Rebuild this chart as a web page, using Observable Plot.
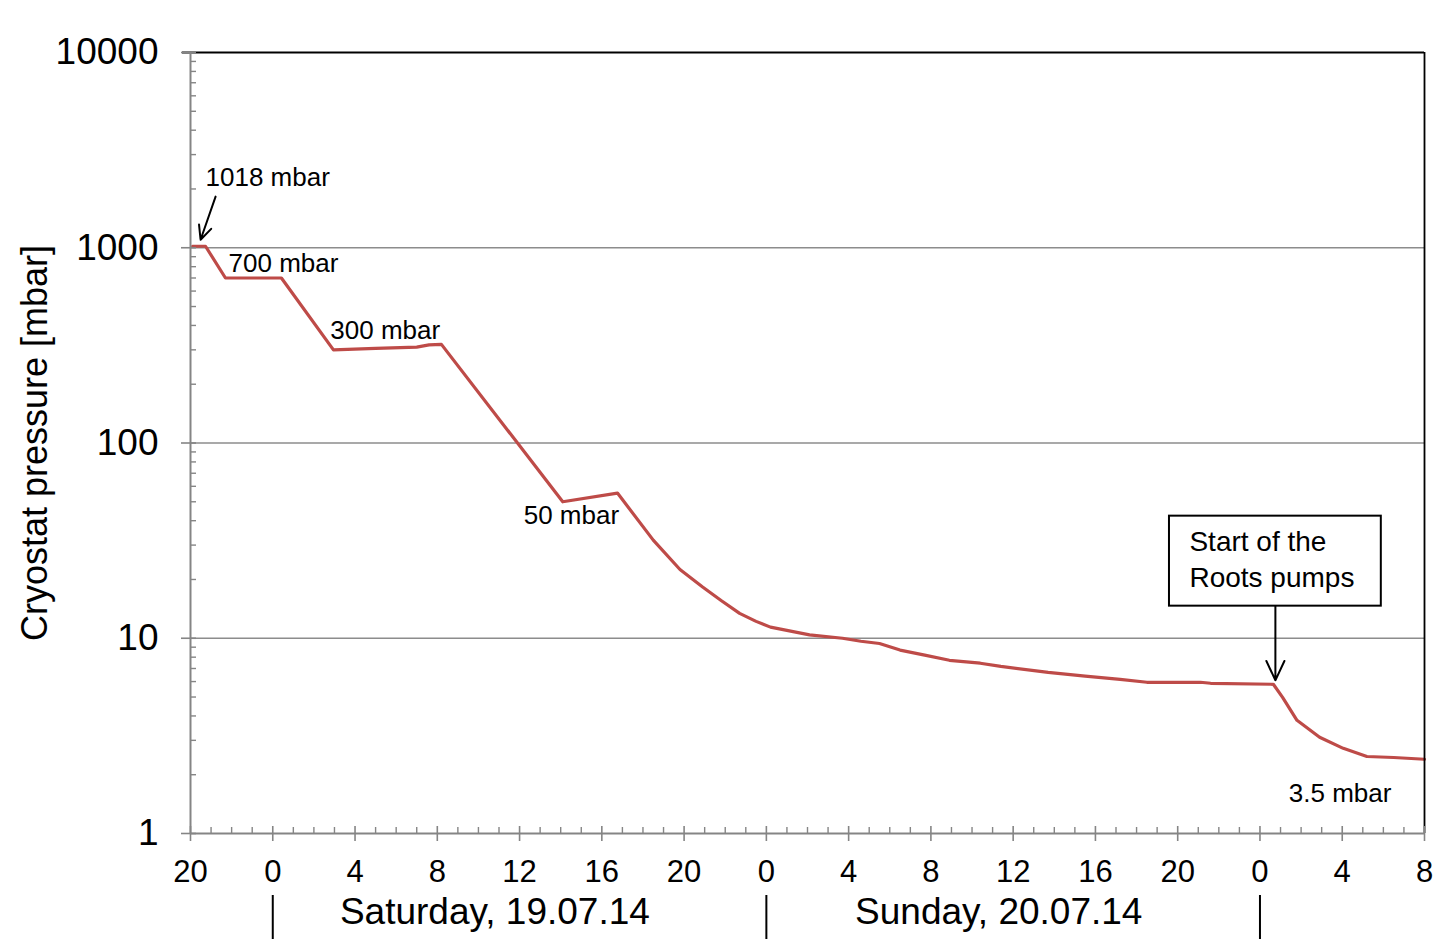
<!DOCTYPE html>
<html>
<head>
<meta charset="utf-8">
<script src="https://cdn.jsdelivr.net/npm/d3@7"></script>
<script src="https://cdn.jsdelivr.net/npm/@observablehq/plot@0.6"></script>
<style>
  html, body { margin: 0; padding: 0; background: #fff; overflow: hidden; }
</style>
</head>
<body>
<div id="chart"></div>
<script>
// Cryostat pump-down, hours counted from Friday 18.07.14, 20:00
const hours = [0.1, 0.73, 1.7, 4.42, 6.95, 9.0, 11.0, 11.6, 12.2, 18.1, 20.76, 22.5, 23.8, 24.9, 25.8, 26.7, 27.5, 28.2, 30.1, 31.7, 32.6, 33.5, 34.5, 35.7, 36.9, 38.4, 39.4, 41.7, 43.5, 45.2, 46.5, 49.1, 49.6, 52.65, 53.1, 53.8, 54.9, 56.05, 57.2, 58.5, 60];
const pressure = [1018, 1018, 700, 700, 300, 305, 310, 318, 320, 50, 55.4, 31.8, 22.5, 18.3, 15.6, 13.4, 12.2, 11.4, 10.4, 10.0, 9.65, 9.4, 8.7, 8.2, 7.71, 7.45, 7.18, 6.69, 6.4, 6.16, 5.95, 5.95, 5.88, 5.81, 4.98, 3.8, 3.11, 2.73, 2.48, 2.45, 2.40];

// axis ticks
const majorHours = d3.range(0, 61, 4);
const minorHours = d3.range(0, 61).filter(h => h % 4 !== 0);
const decades = [1, 10, 100, 1000, 10000];
const minorPressures = d3.range(0, 4).flatMap(e => d3.range(2, 10).map(m => m * 10 ** e));
const gridPressures = [10, 100, 1000];

// day boundaries (midnight) and day captions
const midnights = [4, 28, 52];
const dayNames = ["Saturday, 19.07.14", "Sunday, 20.07.14"];
const dayCenters = [14.8, 39.3];

// annotations
const notes = [
  {t: 0.73, p: 2290, text: "1018 mbar"},
  {t: 1.85, p: 828, text: "700 mbar"},
  {t: 6.8, p: 375, text: "300 mbar"},
  {t: 16.2, p: 42.2, text: "50 mbar"},
  {t: 53.4, p: 1.6, text: "3.5 mbar"}
];
const arrows = [
  {t1: 1.22, p1: 1828, t2: 0.49, p2: 1099},
  {t1: 52.75, p1: 14.6, t2: 52.75, p2: 6.09}
];
const pumpBox = [{t1: 47.6, t2: 57.9, p1: 14.6, p2: 42.2}];
const pumpText = [{t: 48.57, p: 26.0, text: "Start of the\nRoots pumps"}];

const data = hours.map((h, i) => ({h, p: pressure[i]}));

const W = 1433, H = 939;
const mL = 190, mR = 9, mT = 52, mB = 106;
const frameW = W - mL - mR, frameH = H - mT - mB;
const axisGray = "#858585";

const chart = Plot.plot({
  width: W,
  height: H,
  marginLeft: mL,
  marginRight: mR,
  marginTop: mT,
  marginBottom: mB,
  style: {fontFamily: "'Liberation Sans', Arial, sans-serif", background: "#fff", color: "#000"},
  x: {domain: [0, 60], axis: null},
  y: {type: "log", domain: [1, 10000], axis: null},
  marks: [
    // horizontal gridlines
    Plot.ruleY(gridPressures, {stroke: "#8c8c8c", strokeWidth: 1.6}),
    // pressure curve
    Plot.line(data, {x: "h", y: "p", stroke: "#BE4B48", strokeWidth: 3.2, strokeLinejoin: "round"}),
    // plot border (top and right)
    Plot.ruleY([10000], {stroke: "#000", strokeWidth: 1.8, insetLeft: -8}),
    Plot.ruleX([60], {stroke: "#000", strokeWidth: 1.8}),
    // y axis line with ticks
    Plot.ruleX([0], {stroke: axisGray, strokeWidth: 2}),
    Plot.ruleY(decades, {stroke: axisGray, strokeWidth: 1.6, insetLeft: -9, insetRight: frameW - 6}),
    Plot.ruleY(minorPressures, {stroke: axisGray, strokeWidth: 1.4, insetRight: frameW - 6}),
    // x axis line with ticks
    Plot.ruleY([1], {stroke: axisGray, strokeWidth: 2}),
    Plot.ruleX(majorHours, {stroke: axisGray, strokeWidth: 1.6, insetTop: frameH - 7, insetBottom: -8}),
    Plot.ruleX(minorHours, {stroke: axisGray, strokeWidth: 1.4, insetTop: frameH - 6}),
    // tick labels
    Plot.text(majorHours, {x: d => d, text: d => String((d + 20) % 24), frameAnchor: "bottom", lineAnchor: "middle", dy: 39, fontSize: 31}),
    Plot.text(decades, {y: d => d, text: d => String(d), frameAnchor: "left", textAnchor: "end", lineAnchor: "middle", dx: -32, fontSize: 37}),
    // y axis title
    Plot.text(["Cryostat pressure [mbar]"], {frameAnchor: "left", textAnchor: "middle", lineAnchor: "middle", dx: -155, rotate: -90, fontSize: 36}),
    // day separators and captions
    Plot.ruleX(midnights, {stroke: "#000", strokeWidth: 2, insetTop: frameH + 62, insetBottom: -mB}),
    Plot.text(dayNames, {x: (d, i) => dayCenters[i], text: d => d, frameAnchor: "bottom", lineAnchor: "middle", dy: 79, fontSize: 37}),
    // annotations
    Plot.text(notes, {x: "t", y: "p", text: "text", textAnchor: "start", fontSize: 26}),
    Plot.arrow(arrows, {x1: "t1", y1: "p1", x2: "t2", y2: "p2", stroke: "#000", strokeWidth: 2, headLength: 16, headAngle: 50}),
    Plot.rect(pumpBox, {x1: "t1", x2: "t2", y1: "p1", y2: "p2", fill: "#fff", stroke: "#000", strokeWidth: 2}),
    Plot.text(pumpText, {x: "t", y: "p", text: "text", textAnchor: "start", fontSize: 28, lineHeight: 1.3})
  ]
});

document.getElementById("chart").appendChild(chart);
</script>
</body>
</html>
